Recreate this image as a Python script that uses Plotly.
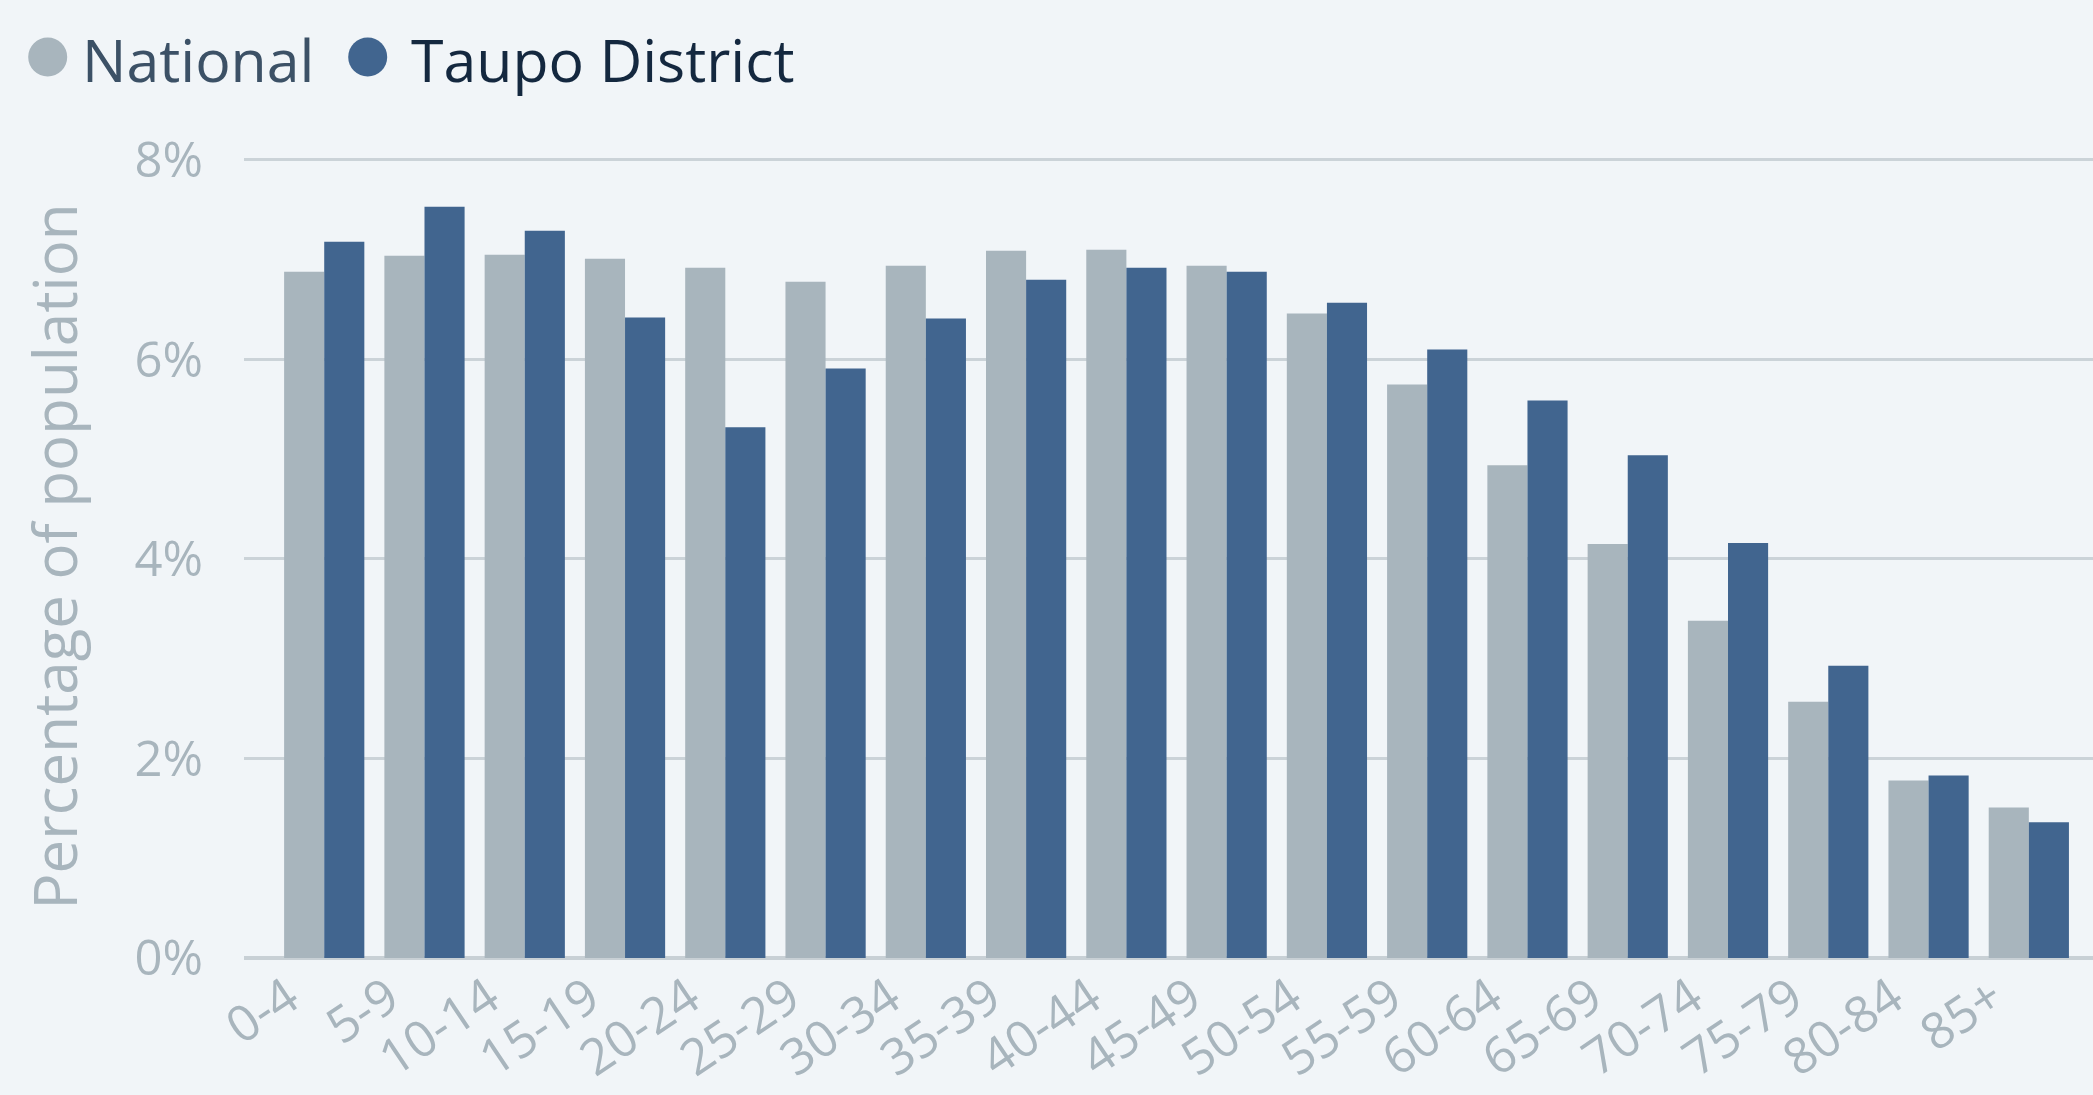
import plotly.graph_objects as go

categories = ["0-4", "5-9", "10-14", "15-19", "20-24", "25-29", "30-34", "35-39", "40-44",
              "45-49", "50-54", "55-59", "60-64", "65-69", "70-74", "75-79", "80-84", "85+"]
national = [6.88, 7.04, 7.05, 7.01, 6.92, 6.78, 6.94, 7.09, 7.10,
            6.94, 6.46, 5.75, 4.94, 4.15, 3.38, 2.57, 1.78, 1.51]
taupo = [7.18, 7.53, 7.29, 6.42, 5.32, 5.91, 6.41, 6.80, 6.92,
         6.88, 6.57, 6.10, 5.59, 5.04, 4.16, 2.93, 1.83, 1.36]
y_ticks = [0, 2, 4, 6, 8]
y_tick_text = ["0%", "2%", "4%", "6%", "8%"]

BG = "#f1f5f8"
C_NAT = "#a8b5bd"
C_TAU = "#41658f"
TICK = "#a8b5bd"
FONT = "Open Sans"

W, H = 2093, 1095
L, R, T, B = 244, 0, 155, 137
PW = W - L - R
PH = H - T - B

fig = go.Figure()
fig.add_trace(go.Bar(x=categories, y=national, name="National", marker_color=C_NAT,
                     marker_line_width=0, showlegend=False))
fig.add_trace(go.Bar(x=categories, y=taupo, name="Taupo District", marker_color=C_TAU,
                     marker_line_width=0, showlegend=False))

def px_x(p):
    return (p - L) / PW

def px_y(p):
    return (H - B - p) / PH

# legend (drawn manually: circular swatches + labels)
for cx, col in [(47.7, C_NAT), (367.7, C_TAU)]:
    fig.add_shape(type="circle", xref="paper", yref="paper",
                  xsizemode="pixel", ysizemode="pixel",
                  xanchor=px_x(cx), yanchor=px_y(57),
                  x0=-19.5, x1=19.5, y0=-19.5, y1=19.5,
                  fillcolor=col, line_width=0, layer="above")
for xp, txt, col in [(80, "National", "#3c5166"), (409, "Taupo District", "#14283f")]:
    fig.add_annotation(x=px_x(xp), y=px_y(59.5), xref="paper", yref="paper",
                       text=txt, showarrow=False, xanchor="left", yanchor="middle",
                       font=dict(family=FONT, size=59, color=col))

fig.update_layout(
    width=W, height=H,
    margin=dict(l=L, r=R, t=T, b=B, pad=0, autoexpand=False),
    paper_bgcolor=BG, plot_bgcolor=BG,
    barmode="group", bargap=0.2, bargroupgap=0,
    font=dict(family=FONT, color=TICK),
    xaxis=dict(
        range=[-0.8, 17.64], tickangle=-34, showgrid=False, zeroline=False,
        showline=False, ticks="", tickfont=dict(size=50, color=TICK),
        ticklabelshift=-36, ticklabelstandoff=0, automargin=False,
    ),
    yaxis=dict(
        range=[0, 8.05], tickvals=y_ticks, ticktext=y_tick_text,
        showgrid=True, gridcolor="#cbd3d8", gridwidth=2.5,
        zeroline=True, zerolinecolor="#c8d0d5", zerolinewidth=4,
        showline=False, ticks="", ticklabelstandoff=40, automargin=False,
        tickfont=dict(size=49, color=TICK),
        title=dict(text="Percentage of population",
                   font=dict(size=60, color=TICK), standoff=37),
    ),
)

fig.write_html("out.html", config={"displayModeBar": False},
               post_script="document.body.style.margin='0px';document.body.style.padding='0px';")
